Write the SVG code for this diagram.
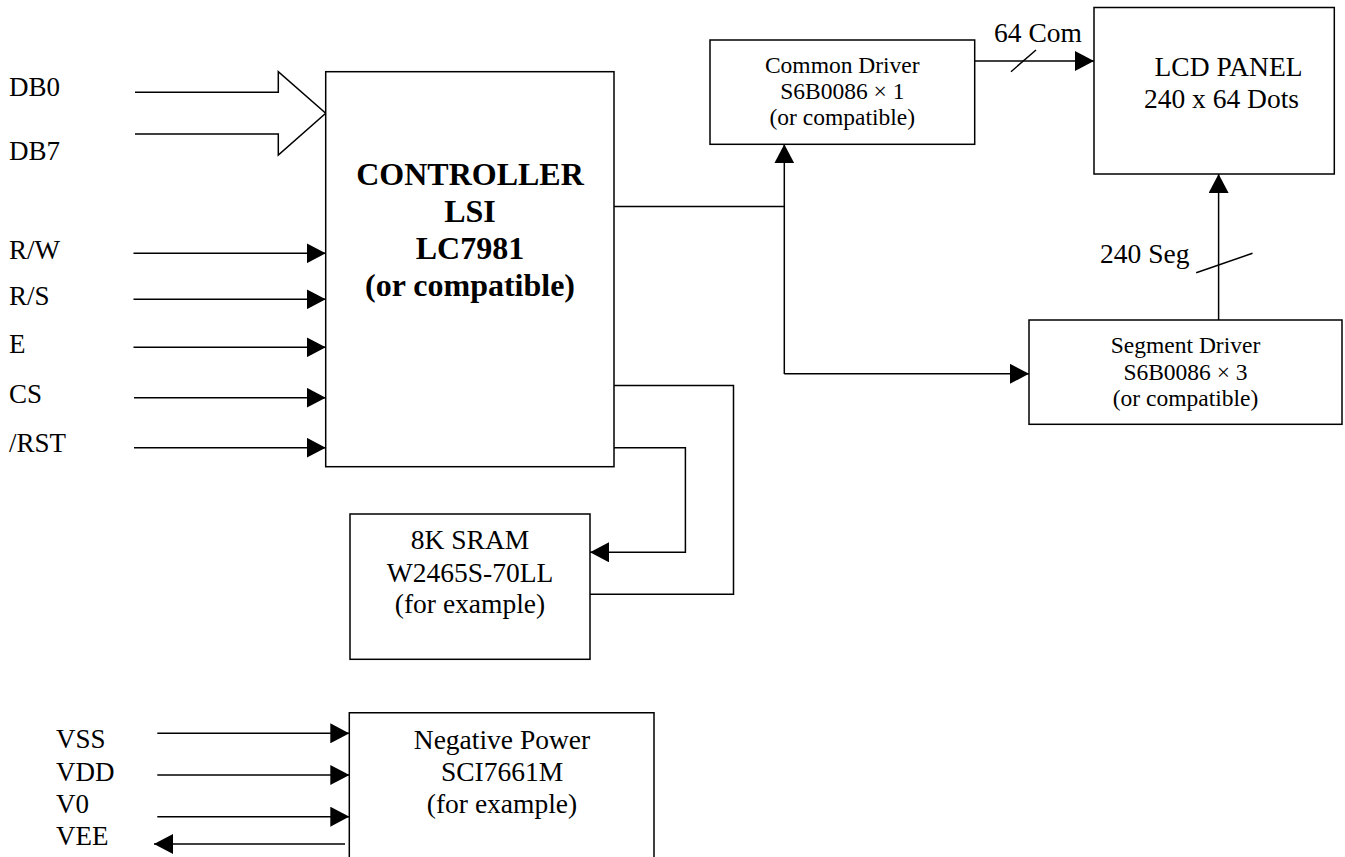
<svg xmlns="http://www.w3.org/2000/svg" width="1345" height="857" viewBox="0 0 1345 857">
<style>
.box{fill:#fff;stroke:#000;stroke-width:1.5}
.ln{fill:none;stroke:#000;stroke-width:1.5}
.t{font-family:"Liberation Serif","Times New Roman",serif;fill:#000}
.lbl{font-size:27px}
.mid{text-anchor:middle}
.drv{font-size:23.5px}
.big{font-size:27.5px}
.bold{font-size:32px;font-weight:bold}
</style>
<defs>
<marker id="ah" markerUnits="userSpaceOnUse" markerWidth="19" markerHeight="20" refX="19" refY="10" orient="auto" viewBox="0 0 19 20">
<path d="M0,0 L19,10 L0,20 z" fill="#000"/>
</marker>
</defs>
<rect width="1345" height="857" fill="#fff"/>

<g id="connectors">
<path class="ln" d="M135,92.3 H278.3 V71.7 L325.7,113.3 L278.3,155 V134 H135"/>
<line class="ln" x1="133.5" y1="253.3" x2="325.7" y2="253.3" marker-end="url(#ah)"/>
<line class="ln" x1="133.5" y1="299.3" x2="325.7" y2="299.3" marker-end="url(#ah)"/>
<line class="ln" x1="133.5" y1="347.3" x2="325.7" y2="347.3" marker-end="url(#ah)"/>
<line class="ln" x1="134" y1="397.7" x2="325.7" y2="397.7" marker-end="url(#ah)"/>
<line class="ln" x1="134" y1="447.7" x2="325.7" y2="447.7" marker-end="url(#ah)"/>
<path class="ln" d="M614,206.5 H784.3"/>
<path class="ln" d="M784.3,374 V144.3" marker-end="url(#ah)"/>
<path class="ln" d="M784.3,373.8 H1029" marker-end="url(#ah)"/>
<path class="ln" d="M974.7,61 H1094" marker-end="url(#ah)"/>
<line class="ln" x1="1011" y1="71.7" x2="1036" y2="50"/>
<path class="ln" d="M1218.6,320 V174" marker-end="url(#ah)"/>
<line class="ln" x1="1196.2" y1="272.7" x2="1252.5" y2="253.3"/>
<path class="ln" d="M614,385.5 H733.5 V594.3 H590"/>
<path class="ln" d="M614,447.7 H685.4 V552.3 H590" marker-end="url(#ah)"/>
<line class="ln" x1="157.3" y1="733.3" x2="349.3" y2="733.3" marker-end="url(#ah)"/>
<line class="ln" x1="157.3" y1="775" x2="349.3" y2="775" marker-end="url(#ah)"/>
<line class="ln" x1="157.3" y1="816.7" x2="349.3" y2="816.7" marker-end="url(#ah)"/>
<line class="ln" x1="345" y1="844" x2="154" y2="844" marker-end="url(#ah)"/>
<text class="t big" x="994" y="42.3">64 Com</text>
<text class="t big" x="1100" y="263.3">240 Seg</text>
</g>

<g id="inputs">
<text class="t lbl" x="9" y="96">DB0</text>
<text class="t lbl" x="9" y="160">DB7</text>
<text class="t lbl" x="9" y="259">R/W</text>
<text class="t lbl" x="9" y="305">R/S</text>
<text class="t lbl" x="9" y="353">E</text>
<text class="t lbl" x="9" y="403">CS</text>
<text class="t lbl" x="9" y="452">/RST</text>
<text class="t lbl" x="56" y="747.7">VSS</text>
<text class="t lbl" x="56" y="781">VDD</text>
<text class="t lbl" x="56" y="813.3">V0</text>
<text class="t lbl" x="56" y="845">VEE</text>
</g>

<g id="controller">
<rect class="box" x="325.7" y="71.7" width="288.3" height="395"/>
<text class="t bold mid" x="470" y="185">CONTROLLER</text>
<text class="t bold mid" x="470" y="222">LSI</text>
<text class="t bold mid" x="470" y="259">LC7981</text>
<text class="t bold mid" x="470" y="296">(or compatible)</text>
</g>

<g id="common-driver">
<rect class="box" x="710" y="40" width="264.7" height="104.3"/>
<text class="t drv mid" x="842.3" y="72.7">Common Driver</text>
<text class="t drv mid" x="842.3" y="99.3">S6B0086 × 1</text>
<text class="t drv mid" x="842.3" y="125">(or compatible)</text>
</g>

<g id="lcd-panel">
<rect class="box" x="1094" y="7.5" width="240.3" height="166.5"/>
<text class="t big mid" x="1228.5" y="75.7">LCD PANEL</text>
<text class="t big mid" x="1221.5" y="108.3">240 x 64 Dots</text>
</g>

<g id="segment-driver">
<rect class="box" x="1029" y="320" width="313" height="104.3"/>
<text class="t drv mid" x="1185.5" y="352.7">Segment Driver</text>
<text class="t drv mid" x="1185.5" y="379.5">S6B0086 × 3</text>
<text class="t drv mid" x="1185.5" y="405.5">(or compatible)</text>
</g>

<g id="sram">
<rect class="box" x="350" y="514" width="240" height="145.3"/>
<text class="t big mid" x="470" y="549">8K SRAM</text>
<text class="t big mid" x="470" y="581.7">W2465S-70LL</text>
<text class="t big mid" x="470" y="613">(for example)</text>
</g>

<g id="negative-power">
<path class="box" d="M349.3,860 V712.7 H654 V860"/>
<text class="t big mid" x="502" y="749">Negative Power</text>
<text class="t big mid" x="502" y="781">SCI7661M</text>
<text class="t big mid" x="502" y="813">(for example)</text>
</g>
</svg>
